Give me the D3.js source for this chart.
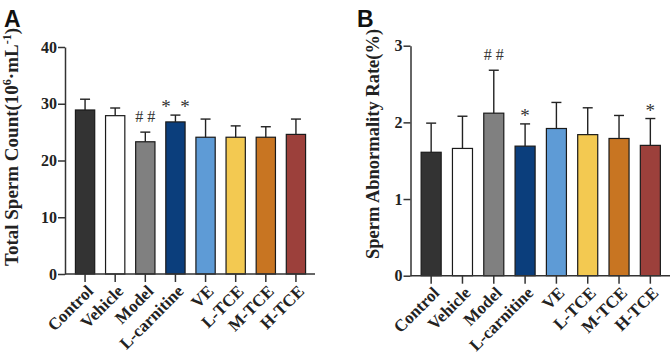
<!DOCTYPE html>
<html>
<head>
<meta charset="utf-8">
<script src="https://cdn.jsdelivr.net/npm/d3@7"></script>
<style>
  body { margin: 0; background: #fff; }
  svg text { font-family: "Liberation Serif", "Times New Roman", serif; font-weight: bold; fill: #222; }
</style>
</head>
<body>
<div id="chart"></div>
<script>
(function(){

    var groups = ['Control', 'Vehicle', 'Model', 'L-carnitine', 'VE', 'L-TCE', 'M-TCE', 'H-TCE'];
    var colours = ['#333333', '#ffffff', '#808080', '#0b3e7c', '#5e9bd6', '#f3c951', '#c87522', '#9c403b'];

    // panel A: total sperm count
    var countMean = [28.9, 27.9, 23.3, 26.8, 24.1, 24.1, 24.1, 24.6];
    var countErr  = [1.9, 1.35, 1.7, 1.2, 3.2, 2.0, 1.85, 2.7];
    var countMarks = ['', '', '#\u00a0#', '*\u00a0\u00a0*', '', '', '', ''];
    var countTicks = [0, 10, 20, 30, 40];

    // panel B: sperm abnormality rate
    var abnMean = [1.61, 1.66, 2.12, 1.69, 1.92, 1.84, 1.79, 1.70];
    var abnErr  = [0.38, 0.42, 0.56, 0.29, 0.34, 0.35, 0.30, 0.35];
    var abnMarks = ['', '', '#\u00a0#', '*', '', '', '', '*'];
    var abnTicks = [0, 1, 2, 3];

    var svg = d3.select('#chart')
        .append('svg')
            .attr('width', 671)
            .attr('height', 364);

    function panel(opt) {
        var g = svg.append('g');

        var x = d3.scaleBand()
            .domain(groups)
            .range([opt.left + 5, opt.right - 4])
            .paddingInner(0.36)
            .paddingOuter(0.18);

        var y = d3.scaleLinear()
            .domain([0, opt.max])
            .range([opt.bottom, opt.top]);

        // bars
        g.selectAll('.bar')
            .data(opt.mean)
            .enter()
            .append('rect')
            .attr('x', function(d, i){ return x(groups[i]); })
            .attr('y', function(d){ return y(d); })
            .attr('width', x.bandwidth())
            .attr('height', function(d){ return y(0) - y(d); })
            .attr('fill', function(d, i){ return colours[i]; })
            .attr('stroke', '#1a1a1a')
            .attr('stroke-width', 1.2);

        // error bars (upper only)
        var eb = g.selectAll('.err')
            .data(opt.mean)
            .enter()
            .append('g');
        eb.append('line')
            .attr('x1', function(d, i){ return x(groups[i]) + x.bandwidth() / 2; })
            .attr('x2', function(d, i){ return x(groups[i]) + x.bandwidth() / 2; })
            .attr('y1', function(d){ return y(d); })
            .attr('y2', function(d, i){ return y(d + opt.err[i]); })
            .attr('stroke', '#222')
            .attr('stroke-width', 1.4);
        eb.append('line')
            .attr('x1', function(d, i){ return x(groups[i]) + x.bandwidth() / 2 - 5; })
            .attr('x2', function(d, i){ return x(groups[i]) + x.bandwidth() / 2 + 5; })
            .attr('y1', function(d, i){ return y(d + opt.err[i]); })
            .attr('y2', function(d, i){ return y(d + opt.err[i]); })
            .attr('stroke', '#222')
            .attr('stroke-width', 1.4);

        // significance marks
        g.selectAll('.mark')
            .data(opt.marks)
            .enter()
            .append('text')
            .attr('x', function(d, i){ return x(groups[i]) + x.bandwidth() / 2; })
            .attr('y', function(d, i){
                var base = y(opt.mean[i] + opt.err[i]);
                return d.charAt(0) === '#' ? base - 10 : base - 2;
            })
            .attr('text-anchor', 'middle')
            .style('font-family', '"Liberation Serif", serif')
            .style('font-weight', 'normal')
            .style('font-size', function(d){ return d.charAt(0) === '#' ? '16px' : '19px'; })
            .style('fill', '#333')
            .text(function(d){ return d; });

        // y axis
        var ya = g.append('g')
            .attr('transform', 'translate(' + opt.left + ',0)')
            .call(d3.axisLeft(y).tickValues(opt.ticks).tickSize(7).tickSizeOuter(0).tickFormat(d3.format('d')));
        ya.select('.domain').attr('stroke', '#333').attr('stroke-width', 1.5);
        ya.selectAll('.tick line').attr('stroke', '#333').attr('stroke-width', 1.5);
        ya.selectAll('.tick text')
            .attr('x', -8)
            .style('font-size', '16px')
            .style('font-family', '"Liberation Serif", serif')
            .style('font-weight', 'bold')
            .attr('fill', '#222');

        // x axis
        var xa = g.append('g')
            .attr('transform', 'translate(0,' + opt.bottom + ')')
            .call(d3.axisBottom(x).tickSize(8).tickSizeOuter(0));
        xa.select('.domain')
            .attr('d', 'M' + opt.left + ',0H' + opt.right)
            .attr('stroke', '#333').attr('stroke-width', 1.5);
        xa.selectAll('.tick line').attr('stroke', '#333').attr('stroke-width', 1.5);
        xa.selectAll('.tick text')
            .attr('text-anchor', 'end')
            .attr('x', 0)
            .attr('y', 0)
            .attr('dy', '0.35em')
            .attr('transform', 'translate(5,14) rotate(-45)')
            .style('font-size', '17px')
            .style('font-family', '"Liberation Serif", serif')
            .style('font-weight', 'bold')
            .attr('fill', '#222');

        // y title
        var t = g.append('text')
            .attr('transform', 'translate(' + opt.titleX + ',' + opt.titleY + ') rotate(-90)')
            .attr('text-anchor', 'middle')
            .style('font-size', opt.titleSize);
        opt.title(t);

        // panel letter
        g.append('text')
            .attr('x', opt.letterX)
            .attr('y', 27)
            .style('font-family', '"Liberation Sans", Arial, sans-serif')
            .style('font-size', '23px')
            .style('font-weight', 'bold')
            .style('fill', '#111')
            .text(opt.letter);
    }

    panel({
        left: 65, right: 315, top: 47, bottom: 274,
        max: 40, ticks: countTicks,
        mean: countMean, err: countErr, marks: countMarks,
        letter: 'A', letterX: 4,
        titleX: 18, titleY: 147, titleSize: '19px',
        title: function(t){
            t.append('tspan').text('Total Sperm Count(10');
            t.append('tspan').attr('dy', -7).style('font-size', '12px').text('6');
            t.append('tspan').attr('dy', 7).text('\u00b7mL');
            t.append('tspan').attr('dy', -7).style('font-size', '12px').text('-1');
            t.append('tspan').attr('dy', 7).text(')');
        }
    });

    panel({
        left: 410.5, right: 670, top: 45.7, bottom: 275.7,
        max: 3, ticks: abnTicks,
        mean: abnMean, err: abnErr, marks: abnMarks,
        letter: 'B', letterX: 357,
        titleX: 379, titleY: 144, titleSize: '18.5px',
        title: function(t){
            t.text('Sperm Abnormality Rate(%)');
        }
    });

})();
</script>
</body>
</html>
